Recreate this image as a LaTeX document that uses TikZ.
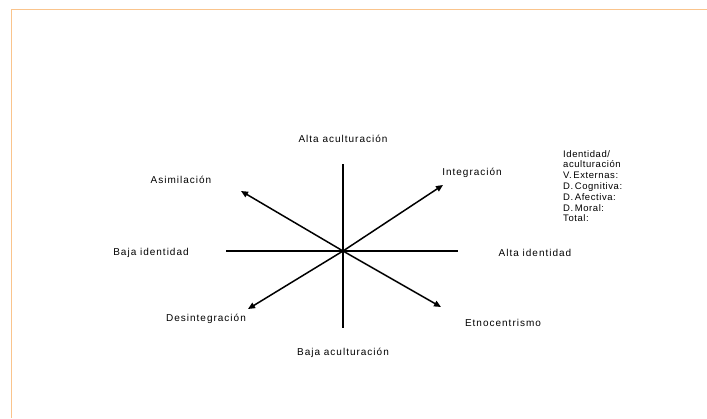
\documentclass[tikz,border=0pt]{standalone}
\usepackage{fontspec}
\setmainfont{Liberation Sans}[LetterSpace=10]
\newfontfamily\tablefont{Liberation Sans}[LetterSpace=6]
\usepackage{tikz}
\usetikzlibrary{arrows.meta}

\begin{document}
\begin{tikzpicture}[x=1pt,y=-1pt]
\tikzstyle{every node}+=[inner sep=0pt, font=\fontsize{10}{11}\selectfont]
\tikzstyle{axis}=[black, line width=1.7pt]
\tikzstyle{diag}=[black, line width=1.5pt, -{Triangle[length=7pt,width=6pt]}]
\useasboundingbox (0,0) rectangle (707,418);
\draw [color={rgb,255:red,250;green,196;blue,140}, line width=1pt] (11.3,418) -- (11.3,9.3) -- (707,9.3);
% axes
\coordinate (c) at (343,251);
\coordinate (top) at (343,164);
\coordinate (bot) at (343,328);
\coordinate (lft) at (226,251);
\coordinate (rgt) at (458,251);
\draw [axis] (top) -- (bot);
\draw [axis] (lft) -- (rgt);
% diagonals
\coordinate (ne) at (443,185);
\coordinate (nw) at (241,191);
\coordinate (sw) at (248,309);
\coordinate (se) at (441,307);
\draw [diag] (c) -- (ne);
\draw [diag] (c) -- (nw);
\draw [diag] (c) -- (sw);
\draw [diag] (c) -- (se);
% labels
\node (altaac) at (343,139) {Alta aculturación};
\node (bajaac) at (343,353) {Baja aculturación};
\node (bajaid) at (151,253) {Baja identidad};
\node (altaid) at (535,253) {Alta identidad};
\node (integ) at (472,173) {Integración};
\node (asim) at (181,180) {Asimilación};
\node (desint) at (206,319) {Desintegración};
\node (etno) at (503,323) {Etnocentrismo};
\node [anchor=north west, align=left, font=\tablefont\fontsize{9.5}{10.8}\selectfont] (tabla) at (563,150)
  {Identidad/\\aculturación\\V.\,Externas:\\D.\,Cognitiva:\\D.\,Afectiva:\\D.\,Moral:\\Total:};
\end{tikzpicture}
\end{document}
